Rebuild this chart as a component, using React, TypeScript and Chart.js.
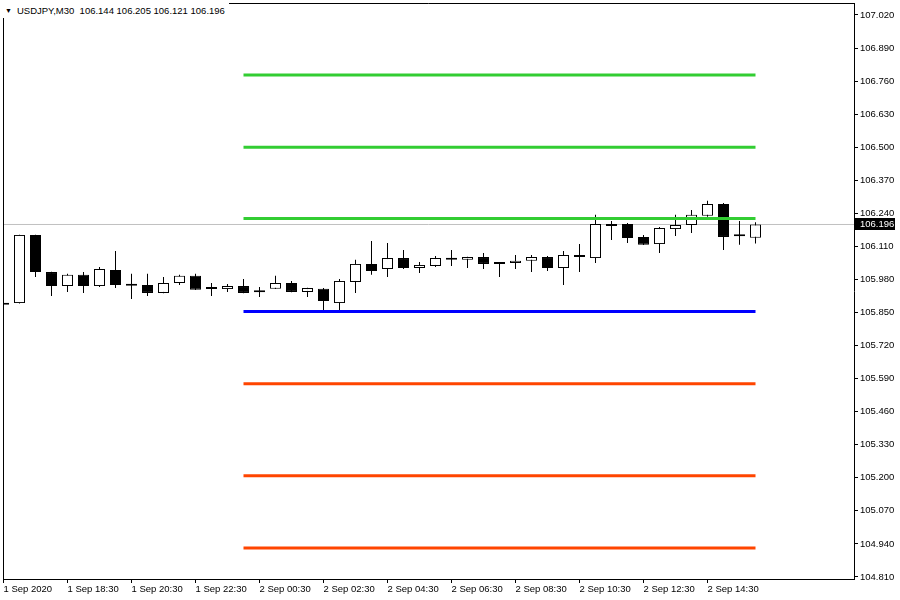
import React, { useEffect, useRef } from "react";
import { Chart, registerables } from "chart.js";

Chart.register(...registerables);

const symbolTitle = "USDJPY,M30";
const xTickLabels = [
  "1 Sep 2020", "1 Sep 18:30", "1 Sep 20:30", "1 Sep 22:30", "2 Sep 00:30", "2 Sep 02:30",
  "2 Sep 04:30", "2 Sep 06:30", "2 Sep 08:30", "2 Sep 10:30", "2 Sep 12:30", "2 Sep 14:30",
];
const xTickIndices = [0, 4, 8, 12, 16, 20, 24, 28, 32, 36, 40, 44];

const opens = [105.880, 105.887, 106.155, 106.009, 105.954, 105.998, 105.954, 106.017, 105.958, 105.958, 105.927, 105.966, 105.994, 105.943, 105.942, 105.954, 105.930, 105.943, 105.966, 105.931, 105.943, 105.887, 105.970, 106.041, 106.021, 106.064, 106.025, 106.033, 106.064, 106.057, 106.068, 106.041, 106.045, 106.053, 106.068, 106.025, 106.076, 106.064, 106.198, 106.198, 106.147, 106.119, 106.178, 106.194, 106.230, 106.277, 106.151, 106.144];
const highs = [105.990, 106.156, 106.156, 106.010, 106.002, 106.009, 106.029, 106.092, 106.002, 106.002, 105.990, 105.998, 106.002, 105.966, 105.962, 105.982, 105.950, 105.994, 105.974, 105.947, 105.946, 105.982, 106.057, 106.131, 106.123, 106.096, 106.049, 106.072, 106.096, 106.069, 106.084, 106.049, 106.076, 106.076, 106.072, 106.092, 106.119, 106.234, 106.210, 106.202, 106.155, 106.186, 106.234, 106.253, 106.289, 106.281, 106.210, 106.205];
const lows = [105.868, 105.885, 105.990, 105.915, 105.931, 105.927, 105.950, 105.946, 105.903, 105.915, 105.926, 105.958, 105.938, 105.915, 105.931, 105.926, 105.911, 105.942, 105.930, 105.911, 105.860, 105.860, 105.927, 105.998, 105.990, 106.021, 106.005, 106.029, 106.033, 106.025, 106.021, 105.990, 106.021, 106.009, 106.013, 105.958, 106.009, 106.045, 106.135, 106.123, 106.115, 106.084, 106.151, 106.163, 106.226, 106.096, 106.116, 106.121];
const closes = [105.884, 106.155, 106.009, 105.954, 105.998, 105.954, 106.021, 105.958, 105.955, 105.927, 105.966, 105.994, 105.939, 105.942, 105.954, 105.927, 105.931, 105.966, 105.931, 105.946, 105.895, 105.974, 106.041, 106.013, 106.064, 106.025, 106.037, 106.064, 106.057, 106.068, 106.041, 106.042, 106.053, 106.068, 106.025, 106.076, 106.068, 106.198, 106.190, 106.143, 106.116, 106.182, 106.194, 106.234, 106.277, 106.147, 106.150, 106.196];

const levelValues = [106.784, 106.500, 106.220, 105.854, 105.570, 105.208, 104.924];
const levelColors = ["#32CD32", "#32CD32", "#32CD32", "#0000FF", "#FF4500", "#FF4500", "#FF4500"];
const levelStart = 15;
const levelEnd = 47;

const yTicks = [104.81, 104.94, 105.07, 105.2, 105.33, 105.46, 105.59, 105.72, 105.85, 105.98, 106.11, 106.24, 106.37, 106.5, 106.63, 106.76, 106.89, 107.02];

const X_MIN = -0.03125;
const X_MAX = 53.156;
const Y_MIN = 104.802;
const Y_MAX = 107.067;

const FONT = "Liberation Sans";
const FS = 9.5;

export default function App() {
  const canvasRef = useRef<HTMLCanvasElement | null>(null);

  useEffect(() => {
    const canvas = canvasRef.current;
    if (!canvas) return;
    const idx = opens.map((_, i) => i);
    const last = closes[closes.length - 1];

    const framePlugin = {
      id: "frame",
      afterDraw(chart: any) {
        const { ctx, chartArea } = chart;
        ctx.save();
        ctx.strokeStyle = "#000";
        ctx.lineWidth = 1;
        ctx.beginPath();
        ctx.moveTo(chartArea.left + 0.5, chartArea.bottom);
        ctx.lineTo(chartArea.left + 0.5, chartArea.top + 0.5);
        ctx.lineTo(chartArea.right, chartArea.top + 0.5);
        ctx.stroke();
        const y = chart.scales.y.getPixelForValue(last);
        ctx.fillStyle = "#000";
        ctx.fillRect(chartArea.right + 1, Math.round(y) - 6, 40, 12);
        ctx.fillStyle = "#fff";
        ctx.font = `${FS}px '${FONT}'`;
        ctx.textBaseline = "middle";
        ctx.textAlign = "left";
        ctx.fillText(last.toFixed(3), chartArea.right + 6, Math.round(y));
        ctx.restore();
      },
    };

    const datasets: any[] = [];
    levelValues.forEach((v, k) => {
      datasets.push({
        type: "line",
        data: [{ x: levelStart, y: v }, { x: levelEnd, y: v }],
        borderColor: levelColors[k],
        borderWidth: 3,
        pointRadius: 0,
        order: 0,
        clip: 0,
      });
    });
    datasets.push({
      type: "bar",
      data: idx.map((i) => ({ x: i, y: [opens[i], closes[i]] })),
      backgroundColor: idx.map((i) => (closes[i] < opens[i] ? "#000" : "#fff")),
      borderColor: "#000",
      borderWidth: 1,
      borderSkipped: false,
      barThickness: 11,
      minBarLength: 2,
      grouped: false,
      inflateAmount: 0,
      order: 1,
      clip: 0,
    });
    datasets.push({
      type: "bar",
      data: idx.map((i) => ({ x: i, y: [lows[i], highs[i]] })),
      backgroundColor: "#000",
      borderWidth: 0,
      barThickness: 1,
      grouped: false,
      inflateAmount: 0,
      order: 2,
      clip: 0,
    });
    datasets.push({
      type: "line",
      data: [{ x: X_MIN, y: last }, { x: X_MAX, y: last }],
      borderColor: "#C0C0C0",
      borderWidth: 1,
      pointRadius: 0,
      order: 3,
      clip: 0,
    });

    const chart = new Chart(canvas, {
      type: "bar",
      data: { datasets },
      plugins: [framePlugin],
      options: {
        animation: false,
        responsive: false,
        devicePixelRatio: 1,
        layout: { padding: { left: 3, top: 3, right: 0, bottom: 0 } },
        plugins: { legend: { display: false }, tooltip: { enabled: false }, title: { display: false } },
        scales: {
          x: {
            type: "linear",
            position: "bottom",
            min: X_MIN,
            max: X_MAX,
            offset: false,
            grid: { offset: false, drawOnChartArea: false, drawTicks: true, tickLength: 4, color: "#000" },
            border: { display: true, color: "#000" },
            afterBuildTicks: (s: any) => {
              s.ticks = xTickIndices.map((v) => ({ value: v }));
            },
            afterFit: (s: any) => {
              s.height = 21;
              s.paddingLeft = 0;
              s.paddingRight = 0;
            },
            ticks: {
              autoSkip: false,
              maxRotation: 0,
              minRotation: 0,
              align: "start",
              padding: 1,
              color: "#000",
              font: { family: FONT, size: FS },
              callback: (v: any) => {
                const k = xTickIndices.indexOf(Number(v));
                return k >= 0 ? xTickLabels[k] : "";
              },
            },
          },
          y: {
            type: "linear",
            position: "right",
            min: Y_MIN,
            max: Y_MAX,
            grid: { drawOnChartArea: false, drawTicks: true, tickLength: 4, color: "#000" },
            border: { display: true, color: "#000" },
            afterBuildTicks: (s: any) => {
              s.ticks = yTicks.map((v) => ({ value: v }));
            },
            afterFit: (s: any) => {
              s.width = 46;
              s.paddingTop = 0;
              s.paddingBottom = 0;
            },
            ticks: {
              padding: 2,
              color: "#000",
              font: { family: FONT, size: FS },
              callback: (v: any) => Number(v).toFixed(3),
            },
          },
        },
      } as any,
    });
    return () => chart.destroy();
  }, []);

  return (
    <div style={{ position: "fixed", left: 0, top: 0, width: 900, height: 600, background: "#fff" }}>
      <canvas ref={canvasRef} width={900} height={600} style={{ display: "block" }} />
      <div
        style={{
          position: "absolute",
          left: 0,
          top: 0,
          height: 18,
          paddingLeft: 5,
          paddingRight: 4,
          background: "#fff",
          fontFamily: FONT,
          fontSize: FS,
          lineHeight: "22px",
          color: "#000",
          whiteSpace: "pre",
        }}
      >
        <span style={{ fontSize: 7, marginRight: 5, position: "relative", top: -1 }}>▼</span>
        {`${symbolTitle}  ${opens[opens.length - 1].toFixed(3)} ${highs[highs.length - 1].toFixed(3)} ${lows[lows.length - 1].toFixed(3)} ${closes[closes.length - 1].toFixed(3)}`}
      </div>
    </div>
  );
}
